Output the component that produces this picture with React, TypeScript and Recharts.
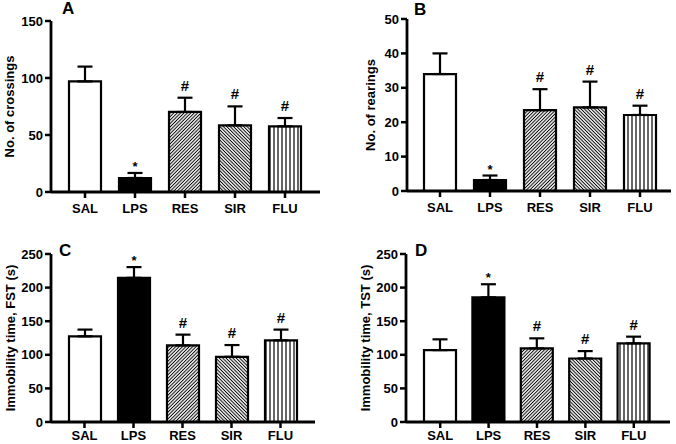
import { BarChart, Bar, XAxis, YAxis, ErrorBar, Cell, LabelList } from 'recharts';

const groups = ['SAL', 'LPS', 'RES', 'SIR', 'FLU'];
const marks = ['', '*', '#', '#', '#'];

const crossingsMean = [97, 12.3, 70.2, 58.5, 57.6];
const crossingsErr = [13, 4.4, 12.5, 16.6, 7.3];
const rearingsMean = [34, 3.2, 23.5, 24.3, 22.1];
const rearingsErr = [6, 1.3, 6.1, 7.5, 2.7];
const fstMean = [127.5, 214.5, 114, 97, 121.5];
const fstErr = [10, 16, 16, 17.5, 16];
const tstMean = [107, 185.5, 109.5, 94.5, 117];
const tstErr = [16, 19.5, 15, 11, 10];

const crossingsTicks = [0, 50, 100, 150];
const rearingsTicks = [0, 10, 20, 30, 40, 50];
const immobilityTicks = [0, 50, 100, 150, 200, 250];

const FONT = '"Liberation Sans", Arial, Helvetica, sans-serif';
const fills = ['#fff', '#000', 'res', 'sir', 'flu'];

function Panel({ id, letter, yLabel, mean, err, ticks, pos, plot, labelX, letterPos, xMargin }) {
  const data = groups.map((name, i) => ({ name, mean: mean[i], range: [0, err[i]], mark: marks[i] }));
  const [left, right, top, bottom] = plot;
  const W = 338, H = 222;

  const renderMark = (p: any) => {
    const vb = p.viewBox || p;
    const x = vb.x ?? p.x, y = vb.y ?? p.y, width = vb.width ?? p.width, height = vb.height ?? p.height;
    const i = p.index;
    if (!data[i] || !data[i].mark) return null;
    const errTop = y - (err[i] * height) / mean[i];
    const star = data[i].mark === '*';
    return (
      <text x={x + width / 2} y={errTop - (star ? 2 : 7)} textAnchor="middle" fontSize={star ? 13 : 15} fontWeight="bold" fontFamily={FONT} fill="#000">
        {data[i].mark}
      </text>
    );
  };

  return (
    <div style={{ position: 'absolute', left: pos[0], top: pos[1], width: W, height: H }}>
      <BarChart width={W} height={H} data={data} margin={{ top, right: W - right, bottom: 0, left: 0 }}>
        <defs>
          <pattern id={`${id}-res`} patternUnits="userSpaceOnUse" width={2.4} height={2.4} patternTransform="rotate(45)">
            <rect width={2.4} height={2.4} fill="#fff" />
            <line x1={1.2} y1={0} x2={1.2} y2={2.4} stroke="#000" strokeWidth={1} />
          </pattern>
          <pattern id={`${id}-sir`} patternUnits="userSpaceOnUse" width={2.4} height={2.4} patternTransform="rotate(-45)">
            <rect width={2.4} height={2.4} fill="#fff" />
            <line x1={1.2} y1={0} x2={1.2} y2={2.4} stroke="#000" strokeWidth={1} />
          </pattern>
          <pattern id={`${id}-flu`} patternUnits="userSpaceOnUse" width={4} height={4}>
            <rect width={4} height={4} fill="#fff" />
            <line x1={2} y1={0} x2={2} y2={4} stroke="#000" strokeWidth={1.2} />
          </pattern>
        </defs>
        <XAxis
          dataKey="name"
          height={H - bottom}
          padding={plot[4]}
          interval={0}
          tickSize={6}
          tickMargin={xMargin}
          axisLine={{ stroke: '#000', strokeWidth: 2.8 }}
          tickLine={{ stroke: '#000', strokeWidth: 2.5 }}
          tick={{ fill: '#000', fontSize: 13, fontWeight: 'bold', fontFamily: FONT }}
        />
        <YAxis
          width={left}
          domain={[0, ticks[ticks.length - 1]]}
          ticks={ticks}
          interval={0}
          tickSize={6}
          tickMargin={2}
          axisLine={{ stroke: '#000', strokeWidth: 2.8 }}
          tickLine={{ stroke: '#000', strokeWidth: 2.5 }}
          tick={{ fill: '#000', fontSize: 13, fontWeight: 'bold', fontFamily: FONT }}
          label={{
            value: yLabel,
            angle: -90,
            position: 'insideLeft',
            offset: labelX,
            style: { textAnchor: 'middle', fontSize: 13, fontWeight: 'bold', fontFamily: FONT, fill: '#000' },
          }}
        />
        <Bar dataKey="mean" barSize={32} stroke="#000" strokeWidth={2.2} isAnimationActive={false}>
          {data.map((_, i) => (
            <Cell key={i} fill={fills[i].startsWith('#') ? fills[i] : `url(#${id}-${fills[i]})`} />
          ))}
          <ErrorBar dataKey="range" direction="y" width={7.5} stroke="#000" strokeWidth={2.2} isAnimationActive={false} />
          <LabelList dataKey="mark" content={renderMark} />
        </Bar>
      </BarChart>
      <div style={{ position: 'absolute', left: letterPos[0], top: letterPos[1], fontFamily: FONT, fontWeight: 'bold', fontSize: 17, lineHeight: '17px', color: '#000' }}>
        {letter}
      </div>
    </div>
  );
}

export default function App() {
  return (
    <div style={{ position: 'absolute', left: 0, top: 0, width: 676, height: 444, background: '#fff', overflow: 'hidden' }}>
      <Panel id="pa" letter="A" yLabel="No. of crossings" mean={crossingsMean} err={crossingsErr} ticks={crossingsTicks}
        pos={[0, 0]} plot={[51, 320, 21, 192, { left: 9, right: 10 }]} labelX={9} letterPos={[62, 0]} xMargin={6} />
      <Panel id="pb" letter="B" yLabel="No. of rearings" mean={rearingsMean} err={rearingsErr} ticks={rearingsTicks}
        pos={[338, 0]} plot={[69, 333, 19, 191, { left: 8, right: 6 }]} labelX={32} letterPos={[76, 1]} xMargin={6} />
      <Panel id="pc" letter="C" yLabel="Immobility time, FST (s)" mean={fstMean} err={fstErr} ticks={immobilityTicks}
        pos={[0, 222]} plot={[51, 315, 32, 200, { left: 9, right: 10 }]} labelX={10} letterPos={[59, 20]} xMargin={3} />
      <Panel id="pd" letter="D" yLabel="Immobility time, TST (s)" mean={tstMean} err={tstErr} ticks={immobilityTicks}
        pos={[338, 222]} plot={[68, 332, 32, 200, { left: 10, right: 12 }]} labelX={27} letterPos={[77, 20]} xMargin={3} />
    </div>
  );
}
